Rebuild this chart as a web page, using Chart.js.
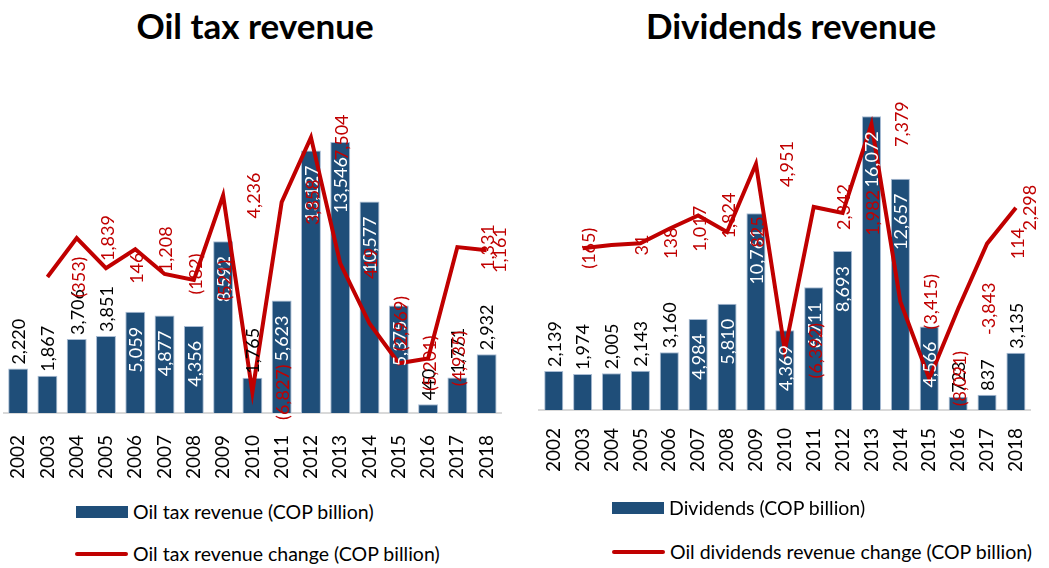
<!DOCTYPE html>
<html>
<head>
<meta charset="utf-8">
<script src="https://cdn.jsdelivr.net/npm/chart.js@4.4.1/dist/chart.umd.min.js"></script>
<style>
  body { margin: 0; background: #fff; width: 1049px; height: 568px; position: relative; overflow: hidden; font-family: Lato, "Open Sans", sans-serif; color: #000; }
  .title { position: absolute; top: 5px; width: 400px; text-align: center; font-weight: bold; font-size: 35px; line-height: 40px; }
  canvas { position: absolute; top: 0; }
  .lg { position: absolute; display: flex; align-items: center; white-space: nowrap; font-size: 19.5px; line-height: 22px; }
  .sw { width: 52px; height: 12px; background: #1f4e79; margin-right: 5px; }
  .ln { width: 53px; height: 4px; background: #c00000; margin-right: 5px; border-radius: 2px; }
</style>
</head>
<body>
<div class="title" style="left:55px">Oil tax revenue</div>
<div class="title" style="left:591px">Dividends revenue</div>

<canvas id="taxChart" width="524" height="500" style="left:0"></canvas>
<canvas id="divChart" width="525" height="500" style="left:524px"></canvas>

<div class="lg" style="left:76px; top:501px"><span class="sw"></span>Oil tax revenue (COP billion)</div>
<div class="lg" style="left:75px; top:543px"><span class="ln"></span>Oil tax revenue change (COP billion)</div>
<div class="lg" style="left:612px; top:497px"><span class="sw"></span>Dividends (COP billion)</div>
<div class="lg" style="left:612px; top:541px"><span class="ln"></span>Oil dividends revenue change (COP billion)</div>

<script>
// ---------- Data ----------
const years = ['2002','2003','2004','2005','2006','2007','2008','2009','2010',
               '2011','2012','2013','2014','2015','2016','2017','2018'];

const taxRevenue = [2220, 1867, 3706, 3851, 5059, 4877, 4356, 8592, 1765,
                    5623, 13127, 13546, 10577, 5375, 440, 1771, 2932];
const taxChange = [null, -353, 1839, 146, 1208, -182, -521, 4236, -6827,
                   3858, 7504, 419, -2969, -5201, -4935, 1331, 1161];

const dividends = [2139, 1974, 2005, 2143, 3160, 4984, 5810, 10761, 4369,
                   6711, 8693, 16072, 12657, 4566, 723, 837, 3135];
const divChange = [null, -165, 31, 138, 1017, 1824, 825, 4951, -6392,
                   2342, 1982, 7379, -3415, -8091, -3843, 114, 2298];

const BLUE = '#1f4e79';
const RED = '#c00000';
const FONT = 'Lato, "Open Sans", sans-serif';

// ---------- Labels ----------
function fmt(v, minus) {
  const s = Math.abs(v).toLocaleString('en-US');
  if (v < 0) return minus ? '-' + s : '(' + s + ')';
  return s;
}

const valueLabels = {
  id: 'valueLabels',
  afterDatasetsDraw(chart, args, opts) {
    const ctx = chart.ctx;
    const bars = chart.getDatasetMeta(0).data;
    const pts = chart.getDatasetMeta(1).data;
    const barVals = chart.data.datasets[0].data;
    const lineVals = chart.data.datasets[1].data;
    ctx.save();
    ctx.font = '18px ' + FONT;
    ctx.textBaseline = 'middle';

    bars.forEach((bar, i) => {
      const v = barVals[i];
      const inside = v >= 4000;
      ctx.save();
      ctx.translate(bar.x + 1, inside ? bar.y + 15 : bar.y - 4);
      ctx.rotate(-Math.PI / 2);
      ctx.textAlign = inside ? 'right' : 'left';
      ctx.fillStyle = inside ? '#fff' : '#000';
      ctx.fillText(fmt(v), 0, 0);
      ctx.restore();
    });

    // the change labels sit one category to the right of their point
    ctx.fillStyle = RED;
    ctx.textAlign = 'center';
    lineVals.forEach((v, i) => {
      if (v === null) return;
      let x;
      if (i === 1 && opts.firstOnPoint) x = pts[i].x + 7;
      else if (i < pts.length - 1) x = pts[i + 1].x + 2;
      else x = pts[i].x + 14;
      ctx.save();
      ctx.translate(x, pts[i].y);
      ctx.rotate(-Math.PI / 2);
      ctx.fillText(fmt(v, opts.minusAt && opts.minusAt.includes(years[i])), 0, 0);
      ctx.restore();
    });
    ctx.restore();
  }
};

// ---------- Chart builder ----------
function makeChart(id, barData, lineData, barLabel, lineLabel, cfg) {
  return new Chart(document.getElementById(id), {
    type: 'bar',
    data: {
      labels: years,
      datasets: [
        {
          type: 'bar',
          label: barLabel,
          data: barData,
          backgroundColor: BLUE,
          borderColor: '#a9bcd3',
          borderWidth: 1,
          barPercentage: cfg.barPct,
          categoryPercentage: 1,
          yAxisID: 'y',
          order: 2
        },
        {
          type: 'line',
          label: lineLabel,
          data: lineData,
          borderColor: RED,
          borderWidth: 4,
          pointRadius: 0,
          tension: 0,
          yAxisID: 'y1',
          order: 1
        }
      ]
    },
    options: {
      responsive: false,
      devicePixelRatio: 1,
      animation: false,
      layout: { padding: cfg.padding },
      plugins: {
        legend: { display: false },
        title: { display: false },
        tooltip: { enabled: false },
        valueLabels: { firstOnPoint: cfg.firstOnPoint, minusAt: cfg.minusAt }
      },
      scales: {
        x: {
          grid: { display: false },
          border: { display: true, color: '#d9d9d9', width: 2 },
          ticks: {
            color: '#000',
            font: { family: FONT, size: 19 },
            minRotation: 90,
            maxRotation: 90,
            autoSkip: false,
            padding: cfg.tickPad
          },
          afterFit: (scale) => { scale.height = 80; }
        },
        y: { display: false, min: 0, max: cfg.yMax },
        y1: { display: false, min: cfg.y1Min, max: cfg.y1Max }
      }
    },
    plugins: [valueLabels]
  });
}

makeChart('taxChart', taxRevenue, taxChange,
  'Oil tax revenue (COP billion)', 'Oil tax revenue change (COP billion)',
  { yMax: 16000, y1Min: -8000, y1Max: 10000, barPct: 0.68, tickPad: 14,
    padding: { left: 3.5, right: 19, top: 93, bottom: 7 } });

makeChart('divChart', dividends, divChange,
  'Dividends (COP billion)', 'Oil dividends revenue change (COP billion)',
  { yMax: 18000, y1Min: -10000, y1Max: 10000, barPct: 0.66, tickPad: 10,
    firstOnPoint: true, minusAt: ['2016'],
    padding: { left: 15.3, right: 9.3, top: 81, bottom: 10 } });
</script>
</body>
</html>
